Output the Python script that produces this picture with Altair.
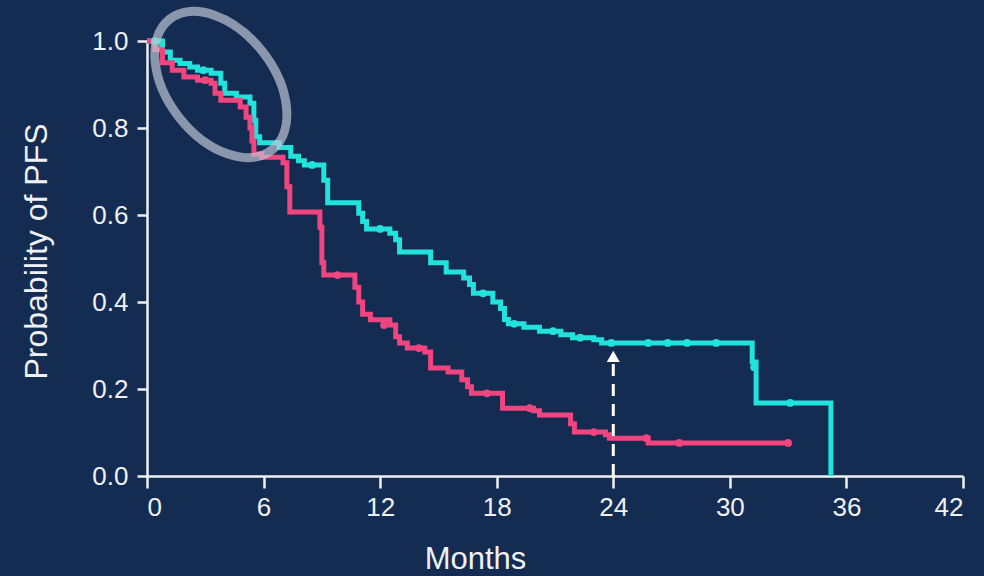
import altair as alt
import pandas as pd

# Kaplan-Meier step points: month of each drop and the survival level after it
cyan_months = [0.0, 0.8, 1.2, 1.7, 2.2, 2.6, 3.3, 3.8, 4.0, 4.6, 5.3, 5.5, 5.6, 5.8,
               6.8, 7.4, 7.8, 8.1, 9.1, 9.3, 10.9, 11.1, 11.3, 12.5, 12.8, 13.0,
               14.6, 15.4, 16.3, 16.6, 16.8, 17.8, 18.2, 18.4, 18.6, 19.4, 20.2,
               21.3, 21.9, 23.0, 23.4, 31.15, 31.35, 35.2]
cyan_surv = [1.0, 0.975, 0.956, 0.948, 0.94, 0.933, 0.926, 0.903, 0.88, 0.871, 0.857,
             0.818, 0.78, 0.766, 0.755, 0.735, 0.725, 0.715, 0.68, 0.628, 0.604, 0.585,
             0.568, 0.558, 0.543, 0.515, 0.49, 0.469, 0.455, 0.44, 0.42, 0.40, 0.385,
             0.36, 0.35, 0.342, 0.333, 0.325, 0.318, 0.313, 0.306, 0.262, 0.168, 0.0]

pink_months = [0.0, 0.4, 0.8, 1.3, 1.9, 2.6, 3.3, 3.5, 3.8, 4.8, 5.1, 5.3, 5.4, 5.5,
               5.9, 7.0, 7.2, 7.35, 8.9, 9.0, 9.1, 10.7, 10.9, 11.1, 11.5, 12.5, 12.8,
               13.0, 13.4, 14.3, 14.6, 15.5, 16.2, 16.5, 16.7, 18.3, 19.9, 20.2, 21.8,
               22.0, 23.6, 23.8, 25.8, 33.0]
pink_surv = [1.0, 0.98, 0.95, 0.933, 0.917, 0.91, 0.903, 0.88, 0.864, 0.848, 0.825,
             0.80, 0.77, 0.74, 0.733, 0.72, 0.665, 0.607, 0.572, 0.49, 0.462, 0.434,
             0.40, 0.372, 0.359, 0.347, 0.32, 0.306, 0.294, 0.285, 0.248, 0.239, 0.221,
             0.205, 0.19, 0.156, 0.15, 0.14, 0.12, 0.101, 0.095, 0.087, 0.076, 0.076]

# Censored observations (tick marks on the curves)
cyan_cens_months = [0.4, 2.9, 8.5, 12.0, 17.3, 18.9, 20.9, 22.3, 23.9, 25.8, 26.8,
                    27.8, 29.3, 31.25, 33.1]
cyan_cens_surv = [1.0, 0.933, 0.715, 0.568, 0.42, 0.35, 0.333, 0.318, 0.306, 0.306,
                  0.306, 0.306, 0.306, 0.25, 0.168]
pink_cens_months = [3.0, 9.8, 12.2, 14.0, 17.5, 19.7, 23.0, 25.7, 27.4, 33.0]
pink_cens_surv = [0.91, 0.462, 0.347, 0.294, 0.19, 0.156, 0.101, 0.087, 0.076, 0.076]

x_ticks = [0, 6, 12, 18, 24, 30, 36, 42]
y_ticks = [0.0, 0.2, 0.4, 0.6, 0.8, 1.0]

# Landmark at 24 months
landmark_month = 24
landmark_top = 0.262
arrow_tip = 0.275

# Highlight ellipse around the early part of the curves
ellipse_center = (3.8, 0.9)

BG = "#142b52"
CYAN = "#22e2dc"
PINK = "#f0457f"
WHITE = "#eef1f6"
FONT = "Liberation Sans"

curves = pd.concat([
    pd.DataFrame({"month": cyan_months, "surv": cyan_surv, "arm": "A"}),
    pd.DataFrame({"month": pink_months, "surv": pink_surv, "arm": "B"}),
])
censors = pd.concat([
    pd.DataFrame({"month": cyan_cens_months, "surv": cyan_cens_surv, "arm": "A"}),
    pd.DataFrame({"month": pink_cens_months, "surv": pink_cens_surv, "arm": "B"}),
])

x_scale = alt.Scale(domain=[0, 42], nice=False, zero=False)
y_scale = alt.Scale(domain=[0, 1], nice=False)
color = alt.Color("arm:N", scale=alt.Scale(domain=["A", "B"], range=[CYAN, PINK]),
                  legend=None)

x_axis = alt.Axis(values=x_ticks, title="Months", grid=False, labelFontSize=26,
                  labelFont=FONT, labelColor=WHITE, labelPadding=6,
                  domainColor=WHITE, domainWidth=2.5, tickColor=WHITE, tickWidth=2.5,
                  tickSize=12, titleFont=FONT, titleFontSize=31, titleFontWeight="normal",
                  titleColor=WHITE, titleX=328, titleY=92, titleBaseline="alphabetic",
                  titleAlign="center")
y_axis = alt.Axis(values=y_ticks, format=".1f", title="Probability of PFS", grid=False,
                  labelFontSize=26, labelFont=FONT, labelColor=WHITE, labelPadding=9,
                  domainColor=WHITE, domainWidth=2.5, tickColor=WHITE, tickWidth=2.5,
                  tickSize=10, titleFont=FONT, titleFontSize=32, titleFontWeight="normal",
                  titleColor=WHITE, titleAngle=-90, titleX=-111, titleY=210,
                  titleBaseline="middle", titleAlign="center")

lines = alt.Chart(curves).mark_line(interpolate="step-after", strokeWidth=5).encode(
    x=alt.X("month:Q", scale=x_scale, axis=x_axis),
    y=alt.Y("surv:Q", scale=y_scale, axis=y_axis),
    color=color,
    order=alt.Order("month:Q"),
)

dots = alt.Chart(censors).mark_circle(size=60, opacity=1).encode(
    x=alt.X("month:Q", scale=x_scale),
    y=alt.Y("surv:Q", scale=y_scale),
    color=color,
)

landmark = pd.DataFrame({"month": [landmark_month], "y0": [0.0], "y1": [landmark_top],
                         "tip": [arrow_tip]})
dash = alt.Chart(landmark).mark_rule(color="white", strokeWidth=3,
                                     strokeDash=[12, 8]).encode(
    x=alt.X("month:Q", scale=x_scale),
    y=alt.Y("y0:Q", scale=y_scale),
    y2="y1:Q",
)
head = alt.Chart(landmark).mark_point(shape="triangle-up", filled=True, color="white",
                                      size=170, opacity=1).encode(
    x=alt.X("month:Q", scale=x_scale),
    y=alt.Y("tip:Q", scale=y_scale),
)

# Ellipse drawn as a custom symbol path (unit major axis, 0.64 minor axis)
ellipse_path = ("M 1 0 C 1 0.353 0.552 0.64 0 0.64 C -0.552 0.64 -1 0.353 -1 0 "
                "C -1 -0.353 -0.552 -0.64 0 -0.64 C 0.552 -0.64 1 -0.353 1 0 Z")
ellipse_df = pd.DataFrame({"month": [ellipse_center[0]], "surv": [ellipse_center[1]]})
ellipse = alt.Chart(ellipse_df).mark_point(shape=ellipse_path, filled=False,
                                           stroke="#c3c9d6", strokeWidth=9,
                                           opacity=0.68, size=166 ** 2, angle=52).encode(
    x=alt.X("month:Q", scale=x_scale),
    y=alt.Y("surv:Q", scale=y_scale),
)

chart = alt.layer(lines, dots, dash, head, ellipse).properties(
    width=816, height=435,
    autosize=alt.AutoSizeParams(type="none"),
    padding={"left": 147, "top": 41, "right": 21, "bottom": 100},
    background=BG,
).configure_view(stroke=None)

chart.save("out.html", embed_options={"renderer": "svg", "actions": False})
